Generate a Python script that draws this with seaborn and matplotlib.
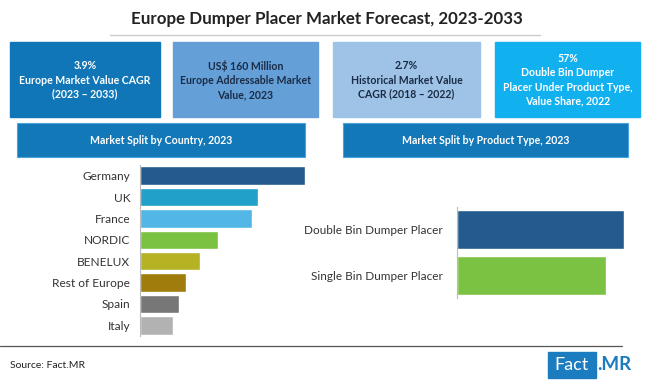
import numpy as np
import pandas as pd
import matplotlib.pyplot as plt
import seaborn as sns
from matplotlib.patches import Rectangle

# data (relative bar lengths)
countries = ['Germany', 'UK', 'France', 'NORDIC', 'BENELUX', 'Rest of Europe', 'Spain', 'Italy']
country_vals = [165, 118, 112, 78, 60, 46, 39, 33]
country_colors = ['#245b8e', '#21a0c9', '#52b6e6', '#7cc242', '#b5b224', '#a07c0c', '#777777', '#b2b2b2']

products = ['Double Bin Dumper Placer', 'Single Bin Dumper Placer']
product_vals = [167, 149]
product_colors = ['#245b8e', '#7cc242']

kpi_texts = ['3.9%\nEurope Market Value CAGR\n(2023 \u2013 2033)',
             'US$ 160 Million\nEurope Addressable Market\nValue, 2023',
             '2.7%\nHistorical Market Value\nCAGR (2018 \u2013 2022)',
             '57%\nDouble Bin Dumper\nPlacer Under Product Type,\nValue Share, 2022']
kpi_colors = ['#1176b7', '#649fd8', '#9ec3e6', '#11b0ef']
kpi_text_colors = ['white', '#1a2b45', '#1a2b45', 'white']

sns.set_style('white')
plt.rcParams['font.family'] = ['Lato', 'DejaVu Sans']

W, H = 650, 385
fig = plt.figure(figsize=(6.5, 3.85), dpi=100)


def px(x0, y0, x1, y1):
    return [x0 / W, 1 - y1 / H, (x1 - x0) / W, (y1 - y0) / H]


bg = fig.add_axes([0, 0, 1, 1])
bg.set_xlim(0, W)
bg.set_ylim(H, 0)
bg.axis('off')

bg.text(327, 19, 'Europe Dumper Placer Market Forecast, 2023-2033', ha='center', va='center',
        fontsize=12.2, fontweight='bold', color='#222222')
bg.plot([110, 540], [35, 35], color='#cccccc', lw=1)

# KPI boxes
box_x = [(10, 160), (173, 318), (333, 480), (495, 640)]
for (x0, x1), t, c, tc in zip(box_x, kpi_texts, kpi_colors, kpi_text_colors):
    bg.add_patch(Rectangle((x0, 42), x1 - x0, 75, color=c))
    bg.text((x0 + x1) / 2, 80, t, ha='center', va='center', fontsize=7.6,
            fontweight='bold', color=tc, linespacing=1.35)

# section headers
for (x0, x1), t in zip([(17, 305), (343, 628)],
                       ['Market Split by Country, 2023', 'Market Split by Product Type, 2023']):
    bg.add_patch(Rectangle((x0, 123), x1 - x0, 34, facecolor='#1378b8', edgecolor='#4aa3dc', lw=0.8))
    bg.text((x0 + x1) / 2, 140, t, ha='center', va='center', fontsize=7.6,
            fontweight='bold', color='white')

# footer
bg.plot([0, 622], [346, 346], color='#555555', lw=0.9)
bg.text(10, 365, 'Source: Fact.MR', ha='left', va='center', fontsize=7.5, color='#222222')
bg.add_patch(Rectangle((548, 352), 48, 26, color='#1b7cc0'))
bg.text(572, 365, 'Fact', ha='center', va='center', fontsize=13, color='white')
bg.text(597, 365, '.MR', ha='left', va='center', fontsize=13.5, fontweight='bold', color='#1b7cc0')

# country chart
ax1 = fig.add_axes(px(140, 165, 306, 336))
sns.barplot(x=country_vals, y=countries, hue=countries, palette=country_colors,
            legend=False, ax=ax1, width=0.86, saturation=1)
ax1.set_xlim(0, 166)
ax1.set_xticks([])
ax1.set_xlabel('')
ax1.set_ylabel('')
ax1.tick_params(axis='y', length=0, labelsize=8.6, labelcolor='#333333', pad=7)
sns.despine(ax=ax1, top=True, right=True, bottom=True)
ax1.spines['left'].set_color('#bbbbbb')
ax1.patch.set_alpha(0)

# product chart
ax2 = fig.add_axes(px(457, 207, 626, 298))
sns.barplot(x=product_vals, y=products, hue=products, palette=product_colors,
            legend=False, ax=ax2, width=0.86, saturation=1)
ax2.set_xlim(0, 169)
ax2.set_xticks([])
ax2.set_xlabel('')
ax2.set_ylabel('')
ax2.tick_params(axis='y', length=0, labelsize=8.5, labelcolor='#333333', pad=10)
sns.despine(ax=ax2, top=True, right=True, bottom=True)
ax2.spines['left'].set_color('#bbbbbb')
ax2.patch.set_alpha(0)

fig.savefig('out.png', dpi=100)
